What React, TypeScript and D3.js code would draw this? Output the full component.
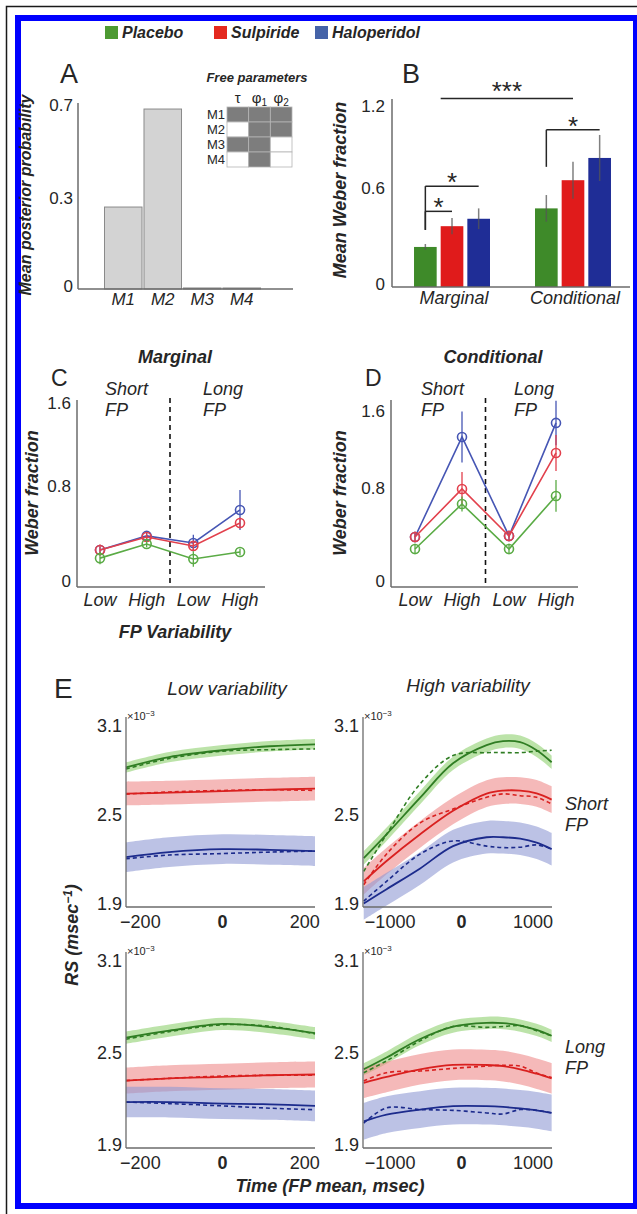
import React from 'react';
import * as d3 from 'd3';

const W = 637;
const H = 1214;
const FONT = '"Liberation Sans", Arial, Helvetica, sans-serif';
const INK = '#262626';
const AXIS = '#6b6b6b';

// drugs and colours
const drugs = ['Placebo', 'Sulpiride', 'Haloperidol'];
const legendColors = ['#4d9a32', '#e4291f', '#4563a8'];
const barColors = ['#3e8a29', '#e01b1b', '#1f2d96'];
const pointColors = ['#5aab45', '#e2404c', '#4656b4'];
const lineColors = ['#2f7d23', '#d9201f', '#1c2b8c'];
const bandColors = ['#8fd070', '#ee8a8a', '#8f9ad4'];

// panel A
const models = ['M1', 'M2', 'M3', 'M4'];
const posterior = [0.317, 0.696, 0.004, 0.004];
const aTicks = [0, 0.34, 0.7];
const aTickLabels = ['0', '0.3', '0.7'];
const paramNames = ['tau', 'phi1', 'phi2'];
const freeParams = [
  [1, 1, 1],
  [0, 1, 1],
  [1, 1, 0],
  [0, 1, 0],
];

// panel B
const weberGroups = ['Marginal', 'Conditional'];
const marginalMeans = [0.27, 0.41, 0.46];
const marginalSem = [0.02, 0.055, 0.07];
const conditionalMeans = [0.53, 0.72, 0.87];
const conditionalSem = [0.09, 0.125, 0.155];
const bTicks = [0, 0.65, 1.2];
const bTickLabels = ['0', '0.6', '1.2'];

// panels C and D
const fpConditions = ['Short-Low', 'Short-High', 'Long-Low', 'Long-High'];
const fpTickLabels = ['Low', 'High', 'Low', 'High'];
const marginalWeber = [
  [0.23, 0.357, 0.222, 0.285],
  [0.303, 0.42, 0.34, 0.547],
  [0.303, 0.43, 0.366, 0.664],
];
const marginalWeberSem = [
  [0.055, 0.03, 0.07, 0.03],
  [0.05, 0.03, 0.04, 0.05],
  [0.03, 0.03, 0.075, 0.18],
];
const conditionalWeber = [
  [0.328, 0.752, 0.328, 0.828],
  [0.441, 0.894, 0.451, 1.233],
  [0.441, 1.384, 0.451, 1.516],
];
const conditionalWeberSem = [
  [0.05, 0.07, 0.05, 0.15],
  [0.05, 0.16, 0.05, 0.17],
  [0.05, 0.24, 0.05, 0.21],
];
const cTicks = [0, 0.85, 1.6];
const dTicks = [0, 0.87, 1.6];
const cdTickLabels = ['0', '0.8', '1.6'];

// panel E (RS, x10^-3)
const rsTicks = [1.9, 2.5, 3.1];
const rsTickLabels = ['1.9', '2.5', '3.1'];
const lowTimes = [-235, -130, 0, 115, 225];
const highTimes = [-1370, -1050, -580, -120, 350, 580, 820, 1050, 1260];
const lowTicks = [-200, 0, 200];
const highTicks = [-1000, 0, 1000];

const lowShortSolid = [
  [2.83, 2.9, 2.946, 2.973, 2.986],
  [2.654, 2.66, 2.67, 2.68, 2.688],
  [2.226, 2.26, 2.28, 2.275, 2.267],
];
const lowShortDashed = [
  [2.82, 2.89, 2.94, 2.95, 2.955],
  [2.65, 2.665, 2.675, 2.68, 2.675],
  [2.215, 2.24, 2.25, 2.26, 2.267],
];
const highShortSolid = [
  [2.22, 2.38, 2.627, 2.858, 2.98, 3.007, 3.0, 2.946, 2.865],
  [2.063, 2.2, 2.38, 2.538, 2.654, 2.674, 2.674, 2.655, 2.613],
  [1.914, 2.01, 2.15, 2.3, 2.36, 2.36, 2.35, 2.323, 2.28],
];
const highShortDashed = [
  [2.13, 2.38, 2.72, 2.91, 2.93, 2.93, 2.93, 2.94, 2.946],
  [2.04, 2.247, 2.457, 2.55, 2.629, 2.652, 2.64, 2.629, 2.584],
  [1.93, 2.063, 2.247, 2.335, 2.3, 2.29, 2.293, 2.308, 2.28],
];
const lowLongSolid = [
  [2.61, 2.656, 2.7, 2.68, 2.64],
  [2.33, 2.345, 2.355, 2.365, 2.37],
  [2.19, 2.19, 2.18, 2.175, 2.165],
];
const lowLongDashed = [
  [2.6, 2.65, 2.695, 2.685, 2.635],
  [2.33, 2.345, 2.36, 2.365, 2.365],
  [2.19, 2.18, 2.165, 2.15, 2.14],
];
const highLongSolid = [
  [2.404, 2.481, 2.602, 2.683, 2.707, 2.705, 2.689, 2.661, 2.623],
  [2.316, 2.354, 2.404, 2.433, 2.432, 2.425, 2.404, 2.375, 2.345],
  [2.064, 2.108, 2.141, 2.163, 2.163, 2.158, 2.148, 2.136, 2.119],
];
const highLongDashed = [
  [2.382, 2.459, 2.59, 2.683, 2.678, 2.683, 2.689, 2.656, 2.623],
  [2.327, 2.382, 2.393, 2.41, 2.425, 2.43, 2.425, 2.38, 2.35],
  [2.053, 2.152, 2.141, 2.136, 2.119, 2.112, 2.141, 2.136, 2.119],
];
// half-width of the shaded bands
const lowShortBand = [0.035, 0.08, 0.1];
const highShortBand = [0.045, 0.09, 0.11];
const lowLongBand = [0.04, 0.085, 0.1];
const highLongBand = [0.04, 0.1, 0.12];

const VLabel = ({ x, y, size, children }: any) => (
  <text
    transform={`translate(${x},${y}) rotate(-90)`}
    textAnchor="middle"
    fontSize={size}
    fontWeight="bold"
    fontStyle="italic"
    fill={INK}
  >
    {children}
  </text>
);

const Legend = () => {
  const xs = [105, 214, 315];
  return (
    <g>
      {drugs.map((d, i) => (
        <g key={d}>
          <rect x={xs[i]} y={26} width={13} height={13} fill={legendColors[i]} />
          <text x={xs[i] + 17} y={38} fontSize={16} fontWeight="bold" fontStyle="italic" fill={INK}>
            {d}
          </text>
        </g>
      ))}
    </g>
  );
};

const PanelA = () => {
  const x = d3.scaleBand<string>().domain(models).range([104.5, 260.5]).paddingInner(0.05);
  const y = d3.scaleLinear().domain([0, 0.7]).range([289, 108]);
  const cols = d3.scaleBand<string>().domain(paramNames).range([227, 292]);
  const rows = d3.scaleBand<string>().domain(models).range([107, 167]);
  const colHead = [
    <tspan key="t">τ</tspan>,
    <>
      <tspan>φ</tspan>
      <tspan fontSize={10} dy={3}>1</tspan>
    </>,
    <>
      <tspan>φ</tspan>
      <tspan fontSize={10} dy={3}>2</tspan>
    </>,
  ];
  return (
    <g>
      <text x={60} y={83} fontSize={27} fill={INK}>A</text>
      {models.map((m, i) => (
        <rect
          key={m}
          x={x(m)}
          y={y(posterior[i])}
          width={x.bandwidth()}
          height={y(0) - y(posterior[i])}
          fill="#d3d3d3"
          stroke="#8a8a8a"
          strokeWidth={1}
        />
      ))}
      <line x1={78} x2={78} y1={103} y2={289} stroke={AXIS} strokeWidth={1.5} />
      <line x1={78} x2={293} y1={289} y2={289} stroke={AXIS} strokeWidth={1.5} />
      {aTicks.map((t, i) => (
        <text key={t} x={73} y={y(t) - 3} dy="0.35em" textAnchor="end" fontSize={17} fill={INK}>
          {aTickLabels[i]}
        </text>
      ))}
      {models.map((m) => (
        <text key={m} x={x(m)! + x.bandwidth() / 2} y={305} textAnchor="middle" fontSize={17} fontStyle="italic" fill={INK}>
          {m}
        </text>
      ))}
      <VLabel x={31} y={195} size={16}>Mean posterior probability</VLabel>
      {/* inset: free parameters */}
      <text x={257} y={82} textAnchor="middle" fontSize={13} fontWeight="bold" fontStyle="italic" fill={INK}>
        Free parameters
      </text>
      {paramNames.map((p, j) => (
        <text key={p} x={cols(p)! + cols.bandwidth() / 2} y={103} textAnchor="middle" fontSize={15} fill={INK}>
          {colHead[j]}
        </text>
      ))}
      {models.map((m, i) => (
        <g key={m}>
          <text x={225} y={rows(m)! + rows.bandwidth() / 2} dy="0.36em" textAnchor="end" fontSize={13} fill={INK}>
            {m}
          </text>
          {paramNames.map((p, j) => (
            <rect
              key={p}
              x={cols(p)}
              y={rows(m)}
              width={cols.bandwidth()}
              height={rows.bandwidth()}
              fill={freeParams[i][j] ? '#7d7d7d' : '#ffffff'}
              stroke="#b5b5b5"
              strokeWidth={0.8}
            />
          ))}
        </g>
      ))}
    </g>
  );
};

const PanelB = () => {
  const xg = d3.scaleBand<string>().domain(weberGroups).range([392, 633]).paddingInner(0.372).paddingOuter(0.182);
  const xd = d3.scaleBand<string>().domain(drugs).range([0, xg.bandwidth()]).paddingInner(0.15);
  const y = d3.scaleLinear().domain([0, 1.2]).range([287, 109]);
  const means = [marginalMeans, conditionalMeans];
  const sems = [marginalSem, conditionalSem];
  const cx = (g: string, d: string) => xg(g)! + xd(d)! + xd.bandwidth() / 2;
  const star = (sx: number, sy: number, s: string) => (
    <text x={sx} y={sy + 15} textAnchor="middle" fontSize={26} fill={INK}>{s}</text>
  );
  const brackets = [
    { g: 'Marginal', to: 'Sulpiride', level: 0.51, base: 0.385 },
    { g: 'Marginal', to: 'Haloperidol', level: 0.68, base: 0.385 },
    { g: 'Conditional', to: 'Haloperidol', level: 1.06, base: 0.81 },
  ];
  return (
    <g>
      <text x={402} y={83} fontSize={27} fill={INK}>B</text>
      {weberGroups.map((g, gi) =>
        drugs.map((d, di) => (
          <g key={g + d}>
            <rect
              x={xg(g)! + xd(d)!}
              y={y(means[gi][di])}
              width={xd.bandwidth()}
              height={y(0) - y(means[gi][di])}
              fill={barColors[di]}
            />
            <line
              x1={cx(g, d)}
              x2={cx(g, d)}
              y1={y(means[gi][di] - sems[gi][di])}
              y2={y(means[gi][di] + sems[gi][di])}
              stroke="#555"
              strokeOpacity={0.75}
              strokeWidth={1.5}
            />
          </g>
        ))
      )}
      <line x1={392} x2={392} y1={99} y2={287} stroke={AXIS} strokeWidth={1.5} />
      <line x1={392} x2={630} y1={287} y2={287} stroke={AXIS} strokeWidth={1.5} />
      {bTicks.map((t, i) => (
        <text key={t} x={385} y={y(t) - 3} dy="0.35em" textAnchor="end" fontSize={17} fill={INK}>
          {bTickLabels[i]}
        </text>
      ))}
      {weberGroups.map((g) => (
        <text key={g} x={xg(g)! + xg.bandwidth() / 2 + 2} y={304} textAnchor="middle" fontSize={18} fontStyle="italic" fill={INK}>
          {g}
        </text>
      ))}
      <VLabel x={346} y={190} size={18}>Mean Weber fraction</VLabel>
      {brackets.map((b, i) => {
        const x0 = cx(b.g, 'Placebo');
        const x1 = cx(b.g, b.to);
        return (
          <g key={i}>
            <line x1={x0} x2={x0} y1={y(b.base)} y2={y(b.level)} stroke={INK} strokeWidth={1.5} />
            <line x1={x0} x2={x1} y1={y(b.level)} y2={y(b.level)} stroke={INK} strokeWidth={1.5} />
            {star((x0 + x1) / 2, y(b.level) - 10, '*')}
          </g>
        );
      })}
      <line
        x1={xg('Marginal')! + xd('Sulpiride')!}
        x2={cx('Conditional', 'Sulpiride')}
        y1={y(1.27)}
        y2={y(1.27)}
        stroke={INK}
        strokeWidth={1.5}
      />
      {star((xg('Marginal')! + xd('Sulpiride')! + cx('Conditional', 'Sulpiride')) / 2, y(1.27) - 14, '***')}
    </g>
  );
};

const WeberPanel = ({ letter, title, titleX, means, sems, ticks, left, right, top, axisTop, ptRange, shortX, longX }: any) => {
  const x = d3.scalePoint<string>().domain(fpConditions).range(ptRange);
  const y = d3.scaleLinear().domain([-0.03, 1.6]).range([587, top]);
  const line = d3.line<number>().x((_, i) => x(fpConditions[i])!).y((d) => y(d));
  const sep = (x(fpConditions[1])! + x(fpConditions[2])!) / 2;
  const order = [2, 1, 0];
  return (
    <g>
      <text x={titleX} y={363} textAnchor="middle" fontSize={18} fontWeight="bold" fontStyle="italic" fill={INK}>
        {title}
      </text>
      <text x={left - 26} y={386} fontSize={23} fill={INK}>{letter}</text>
      <text x={shortX} y={395} fontSize={18} fontStyle="italic" fill={INK}>Short</text>
      <text x={shortX} y={416} fontSize={18} fontStyle="italic" fill={INK}>FP</text>
      <text x={longX} y={395} fontSize={18} fontStyle="italic" fill={INK}>Long</text>
      <text x={longX} y={416} fontSize={18} fontStyle="italic" fill={INK}>FP</text>
      <line x1={sep} x2={sep} y1={398} y2={587} stroke="#111" strokeWidth={1.6} strokeDasharray="5,4" />
      {order.map((k) => (
        <g key={k}>
          <path d={line(means[k])!} fill="none" stroke={pointColors[k]} strokeWidth={1.6} />
          {means[k].map((m: number, i: number) => (
            <g key={i}>
              <line
                x1={x(fpConditions[i])}
                x2={x(fpConditions[i])}
                y1={y(m - sems[k][i])}
                y2={y(m + sems[k][i])}
                stroke={pointColors[k]}
                strokeWidth={1.3}
              />
              <circle cx={x(fpConditions[i])} cy={y(m)} r={4.5} fill="none" stroke={pointColors[k]} strokeWidth={1.6} />
            </g>
          ))}
        </g>
      ))}
      <line x1={left} x2={left} y1={axisTop} y2={587} stroke={AXIS} strokeWidth={1.5} />
      <line x1={left} x2={right} y1={587} y2={587} stroke={AXIS} strokeWidth={1.5} />
      {ticks.map((t: number, i: number) => (
        <text key={t} x={left - 6} y={y(t) - 3} dy="0.35em" textAnchor="end" fontSize={17} fill={INK}>
          {cdTickLabels[i]}
        </text>
      ))}
      {fpConditions.map((c, i) => (
        <text key={c} x={x(c)} y={606} textAnchor="middle" fontSize={18} fontStyle="italic" fill={INK}>
          {fpTickLabels[i]}
        </text>
      ))}
    </g>
  );
};

const RSPanel = ({ times, xDomain, xTicks, left, right, top, bottom, solid, dashed, band }: any) => {
  const x = d3.scaleLinear().domain(xDomain).range([left, right]);
  const y = d3.scaleLinear().domain([1.89, 3.17]).range([bottom, top]);
  const curve = d3.curveCatmullRom.alpha(0.5);
  const line = d3.line<number>().x((_, i) => x(times[i])).y((d) => y(d)).curve(curve);
  const area = (vals: number[], h: number) =>
    d3
      .area<number>()
      .x((_, i) => x(times[i]))
      .y0((d) => y(d - h))
      .y1((d) => y(d + h))
      .curve(curve)(vals)!;
  return (
    <g>
      {solid.map((vals: number[], k: number) => (
        <path key={'b' + k} d={area(vals, band[k])} fill={bandColors[k]} fillOpacity={0.6} />
      ))}
      {dashed.map((vals: number[], k: number) => (
        <path key={'d' + k} d={line(vals)!} fill="none" stroke={lineColors[k]} strokeWidth={1.6} strokeDasharray="4,3" />
      ))}
      {solid.map((vals: number[], k: number) => (
        <path key={'s' + k} d={line(vals)!} fill="none" stroke={lineColors[k]} strokeWidth={1.8} />
      ))}
      <line x1={left} x2={left} y1={top} y2={bottom} stroke={AXIS} strokeWidth={1.3} />
      <line x1={left} x2={right} y1={bottom} y2={bottom} stroke={AXIS} strokeWidth={1.3} />
      {rsTicks.map((t, i) => (
        <text key={t} x={left - 4} y={y(t) - 2} dy="0.35em" textAnchor="end" fontSize={18} fill={INK}>
          {rsTickLabels[i]}
        </text>
      ))}
      <text x={left + 1} y={top + 3} fontSize={11} fill={INK}>
        ×10<tspan dy={-4} fontSize={8}>−3</tspan>
      </text>
      {xTicks.map((t: number) => (
        <text
          key={t}
          x={x(t)}
          y={bottom + 21}
          textAnchor="middle"
          fontSize={18}
          fontWeight={t === 0 ? 'bold' : 'normal'}
          fill={INK}
        >
          {t < 0 ? '−' + Math.abs(t) : String(t)}
        </text>
      ))}
    </g>
  );
};

export default function App() {
  const lowDomain = [-235, 225];
  const highDomain = [-1380, 1265];
  return (
    <svg
      width={W}
      height={H}
      viewBox={`0 0 ${W} ${H}`}
      fontFamily={FONT}
      style={{ position: 'absolute', left: 0, top: 0, display: 'block' }}
    >
      <rect width={W} height={H} fill="#ffffff" />
      <path d="M6.5,1214 V6.5 H637" fill="none" stroke="#1a1a1a" strokeWidth={1.5} />
      <rect x={18} y={18} width={618} height={1188} fill="none" stroke="#0000ff" strokeWidth={6} />

      <Legend />
      <PanelA />
      <PanelB />

      <WeberPanel
        letter="C"
        title="Marginal"
        titleX={175}
        means={marginalWeber}
        sems={marginalWeberSem}
        ticks={cTicks}
        left={77}
        right={265}
        top={406}
        axisTop={400}
        ptRange={[100, 240]}
        shortX={105}
        longX={203}
      />
      <VLabel x={38} y={493} size={18}>Weber fraction</VLabel>
      <WeberPanel
        letter="D"
        title="Conditional"
        titleX={493}
        means={conditionalWeber}
        sems={conditionalWeberSem}
        ticks={dTicks}
        left={391}
        right={578}
        top={414}
        axisTop={400}
        ptRange={[415, 556]}
        shortX={421}
        longX={514}
      />
      <VLabel x={346} y={493} size={18}>Weber fraction</VLabel>
      <text x={175} y={638} textAnchor="middle" fontSize={18} fontWeight="bold" fontStyle="italic" fill={INK}>
        FP Variability
      </text>

      {/* panel E */}
      <text x={54} y={698} fontSize={28} fill={INK}>E</text>
      <text x={227} y={695} textAnchor="middle" fontSize={19} fontStyle="italic" fill={INK}>Low variability</text>
      <text x={468} y={692} textAnchor="middle" fontSize={19} fontStyle="italic" fill={INK}>High variability</text>
      <RSPanel
        times={lowTimes}
        xDomain={lowDomain}
        xTicks={lowTicks}
        left={126}
        right={315}
        top={717}
        bottom={907}
        solid={lowShortSolid}
        dashed={lowShortDashed}
        band={lowShortBand}
      />
      <RSPanel
        times={highTimes}
        xDomain={highDomain}
        xTicks={highTicks}
        left={363}
        right={552}
        top={717}
        bottom={907}
        solid={highShortSolid}
        dashed={highShortDashed}
        band={highShortBand}
      />
      <RSPanel
        times={lowTimes}
        xDomain={lowDomain}
        xTicks={lowTicks}
        left={126}
        right={315}
        top={952}
        bottom={1148}
        solid={lowLongSolid}
        dashed={lowLongDashed}
        band={lowLongBand}
      />
      <RSPanel
        times={highTimes}
        xDomain={highDomain}
        xTicks={highTicks}
        left={363}
        right={552}
        top={952}
        bottom={1148}
        solid={highLongSolid}
        dashed={highLongDashed}
        band={highLongBand}
      />
      <text x={565} y={810} fontSize={18} fontStyle="italic" fill={INK}>Short</text>
      <text x={565} y={831} fontSize={18} fontStyle="italic" fill={INK}>FP</text>
      <text x={565} y={1053} fontSize={18} fontStyle="italic" fill={INK}>Long</text>
      <text x={565} y={1074} fontSize={18} fontStyle="italic" fill={INK}>FP</text>
      <VLabel x={78} y={935} size={18}>
        RS (msec<tspan dy={-6} fontSize={12}>−1</tspan>
        <tspan dy={6}>)</tspan>
      </VLabel>
      <text x={330} y={1192} textAnchor="middle" fontSize={18} fontWeight="bold" fontStyle="italic" fill={INK}>
        Time (FP mean, msec)
      </text>
    </svg>
  );
}
